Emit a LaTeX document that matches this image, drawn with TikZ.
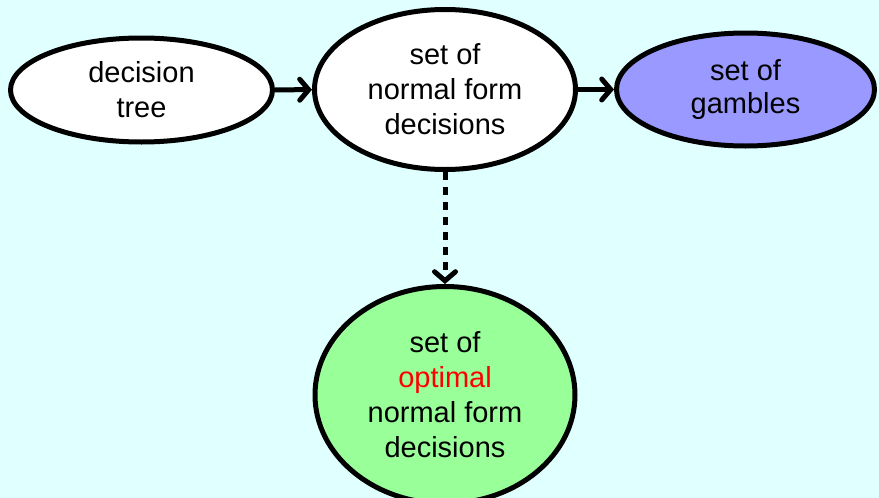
\documentclass[tikz,border=0pt]{standalone}
\usepackage{fontspec}
\setmainfont{Liberation Sans}
\usetikzlibrary{shapes.geometric,arrows.meta}
\definecolor{bgcyan}{RGB}{224,255,255}
\definecolor{gblue}{RGB}{153,153,255}
\definecolor{ogreen}{RGB}{153,255,153}
\begin{document}
\begin{tikzpicture}[x=1pt,y=-1pt,
  blob/.style={ellipse, draw=black, line width=5pt, inner sep=0pt, align=center,
    font=\fontsize{29}{35}\selectfont},
  conn/.style={line width=5pt, -{Straight Barb[length=9pt,width=21pt,line cap=round]}}]
\fill[bgcyan] (0,0) rectangle (879,498);
\useasboundingbox (0,0) rectangle (879,498);
\begin{scope}
\clip (0,0) rectangle (879,498);
\node[blob, fill=white, minimum width=262pt, minimum height=104pt] (tree) at (141.5,90) {decision\\tree};
\node[blob, fill=white, minimum width=261pt, minimum height=160pt] (nfd) at (445,89.5) {set of\\normal form\\decisions};
\node[blob, fill=gblue, minimum width=258pt, minimum height=113pt, font=\fontsize{29}{33}\selectfont] (gam) at (745.5,89.5) {set of\\gambles};
\node[blob, fill=ogreen, minimum width=260pt, minimum height=217pt] (opt) at (445,395) {set of\\\textcolor{red}{optimal}\\normal form\\decisions};
\end{scope}
\draw[conn] (tree) -- (nfd);
\draw[conn] (nfd) -- (gam);
\draw[conn, dash pattern=on 8pt off 7pt] (nfd) -- (opt);
\end{tikzpicture}
\end{document}
